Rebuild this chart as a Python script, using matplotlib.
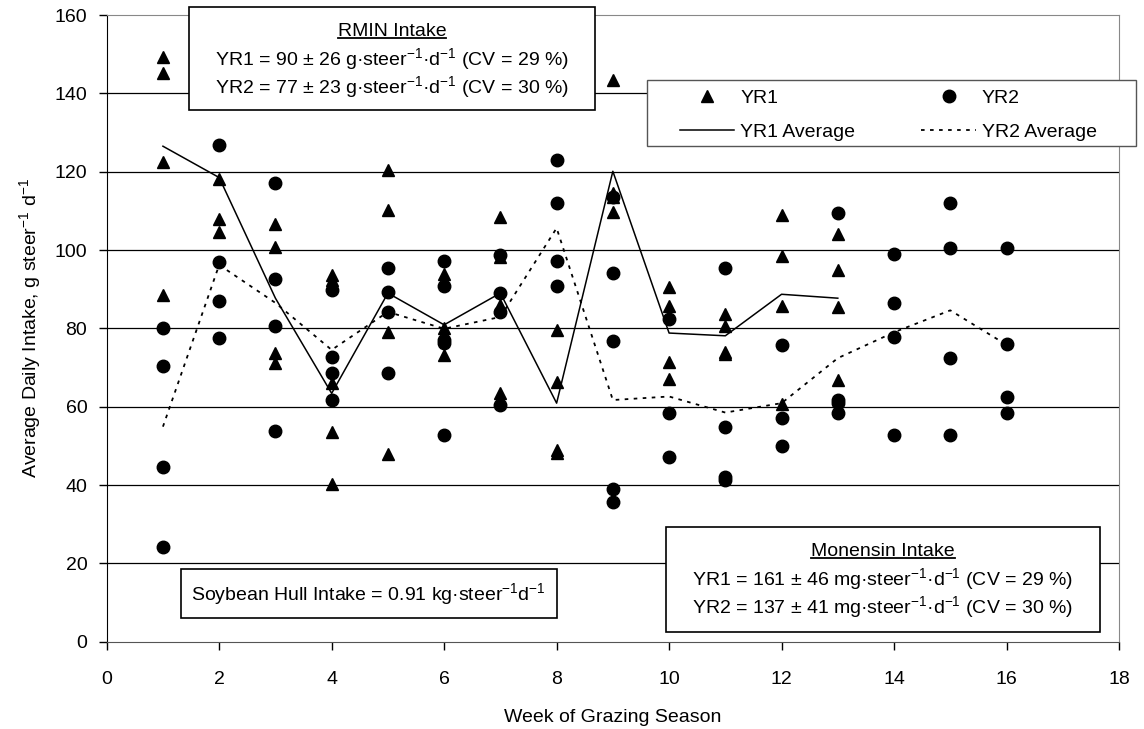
import numpy as np
import matplotlib
matplotlib.use('Agg')
import matplotlib.pyplot as plt
from matplotlib.patches import Rectangle
from matplotlib.lines import Line2D

plt.rcParams['font.family'] = ['Liberation Sans', 'DejaVu Sans']
plt.rcParams['mathtext.fontset'] = 'custom'
plt.rcParams['mathtext.rm'] = 'Liberation Sans'
plt.rcParams['mathtext.it'] = 'Liberation Sans:italic'
plt.rcParams['mathtext.bf'] = 'Liberation Sans:bold'

# individual intakes per week (g/steer/d)
yr1_weeks = list(range(1, 14))
yr1_intake = [
    [149.4, 145.3, 122.4, 88.6],
    [118.2, 108.0, 104.6],
    [106.7, 100.7, 73.8, 71.1],
    [93.5, 92.3, 66.0, 53.5, 40.3],
    [120.3, 110.1, 79.0, 47.9],
    [93.9, 80.0, 73.1],
    [108.4, 98.3, 86.0, 63.4],
    [79.6, 66.4, 49.0, 48.2],
    [143.3, 114.5, 113.6, 109.7],
    [90.5, 85.7, 71.3, 67.1],
    [83.7, 80.7, 73.9, 73.4],
    [109.0, 98.5, 85.7, 60.7],
    [104.1, 94.8, 85.4, 66.8],
]
yr2_weeks = list(range(1, 17))
yr2_intake = [
    [80.0, 70.4, 44.5, 24.3],
    [126.9, 96.9, 87.0, 77.5],
    [117.2, 92.6, 80.5, 53.8],
    [89.8, 72.8, 68.7, 61.6],
    [95.5, 89.2, 84.1, 68.7],
    [97.1, 90.7, 77.1, 76.3, 52.8],
    [98.8, 89.0, 84.1, 60.5],
    [123.0, 112.0, 97.1, 90.7],
    [113.5, 94.1, 76.8, 38.9, 35.6],
    [82.3, 58.3, 47.1],
    [95.4, 54.9, 42.0, 41.4],
    [75.8, 57.2, 50.0],
    [109.4, 61.6, 61.0, 58.5],
    [99.0, 86.4, 77.8, 52.8],
    [112.0, 100.5, 72.4, 52.8],
    [100.5, 76.0, 62.5, 58.5],
]
yr1_avg = [126.5, 118.5, 87.7, 63.4, 89.0, 80.9, 89.0, 60.9, 120.1, 78.8, 78.1, 88.7, 87.7]
yr2_avg = [54.9, 96.2, 86.5, 74.5, 84.2, 79.9, 82.9, 105.6, 61.7, 62.6, 58.5, 60.9, 72.4, 79.0, 84.6, 75.8]

x1 = np.repeat(yr1_weeks, [len(v) for v in yr1_intake])
y1 = np.concatenate(yr1_intake)
x2 = np.repeat(yr2_weeks, [len(v) for v in yr2_intake])
y2 = np.concatenate(yr2_intake)

W, H = 1144, 729
def fx(px):
    return px / W
def fy(py):
    return 1 - py / H

FS = 14

fig = plt.figure(figsize=(W / 100, H / 100), dpi=100)
ax = fig.add_axes([fx(106.7), fy(641.7), (1119 - 106.7) / W, (641.7 - 15) / H])

for y in range(20, 160, 20):
    ax.axhline(y, color='black', lw=0.9, zorder=1)

h1, = ax.plot(x1, y1, ls='none', marker='^', ms=9, color='black', zorder=3, label='YR1')
h2, = ax.plot(x2, y2, ls='none', marker='o', ms=9, color='black', zorder=3, label='YR2')
l1, = ax.plot(yr1_weeks, yr1_avg, '-', color='black', lw=1.1, zorder=2, label='YR1 Average')
l2, = ax.plot(yr2_weeks, yr2_avg, color='black', lw=1.3, ls=(0, (2, 3)), zorder=2, label='YR2 Average')

ax.set_xlim(0, 18)
ax.set_ylim(0, 160)
ax.set_xticks(range(0, 19, 2))
ax.set_yticks(range(0, 161, 20))
ax.tick_params(axis='both', labelsize=FS, direction='out', length=6, width=1)
ax.tick_params(axis='x', pad=15)
ax.tick_params(axis='y', pad=8)
ax.spines['left'].set_color('black')
ax.spines['bottom'].set_color('#555555')
ax.spines['top'].set_color('#888888')
ax.spines['right'].set_color('#888888')

ax.set_xlabel('Week of Grazing Season', fontsize=FS)
ax.set_ylabel('Average Daily Intake, g steer$^{-1}$ d$^{-1}$', fontsize=FS)
ax.xaxis.set_label_coords(0.5, -0.108)
ax.yaxis.set_label_coords(-0.063, 0.5)

# legend: frame drawn separately so the padding can match
fig.add_artist(Rectangle((fx(647), fy(146)), (1136 - 647) / W, (146 - 80) / H,
                         transform=fig.transFigure, facecolor='white',
                         edgecolor='#555555', lw=1.0, zorder=5))
leg = ax.legend(handles=[h1, l1, h2, l2], ncol=2, loc='upper left',
                bbox_to_anchor=(fx(680), fy(89)), bbox_transform=fig.transFigure,
                borderaxespad=0, borderpad=0, fontsize=FS, handlelength=2.8,
                handletextpad=0.3, columnspacing=3.4, labelspacing=0.85,
                frameon=False)
leg.set_zorder(6)
leg.remove()
fig.add_artist(leg)

def box(x0, y0, x1, y1):
    fig.add_artist(Rectangle((fx(x0), fy(y1)), (x1 - x0) / W, (y1 - y0) / H,
                             transform=fig.transFigure, facecolor='white',
                             edgecolor='black', lw=1.2, zorder=5))

box(189, 7, 595, 110)
box(181, 569, 557, 618)
box(666, 527, 1100, 632)

titles = []
titles.append(fig.text(fx(392), fy(31), 'RMIN Intake', ha='center', va='center', fontsize=FS, zorder=7))
fig.text(fx(392), fy(59), 'YR1 = 90 ± 26 g·steer$^{-1}$·d$^{-1}$ (CV = 29 %)', ha='center', va='center', fontsize=FS, zorder=7)
fig.text(fx(392), fy(87), 'YR2 = 77 ± 23 g·steer$^{-1}$·d$^{-1}$ (CV = 30 %)', ha='center', va='center', fontsize=FS, zorder=7)

fig.text(fx(191), fy(594), 'Soybean Hull Intake = 0.91 kg·steer$^{-1}$d$^{-1}$', ha='left', va='center', fontsize=FS, zorder=7)

titles.append(fig.text(fx(883), fy(551), 'Monensin Intake', ha='center', va='center', fontsize=FS, zorder=7))
fig.text(fx(883), fy(579), 'YR1 = 161 ± 46 mg·steer$^{-1}$·d$^{-1}$ (CV = 29 %)', ha='center', va='center', fontsize=FS, zorder=7)
fig.text(fx(883), fy(607), 'YR2 = 137 ± 41 mg·steer$^{-1}$·d$^{-1}$ (CV = 30 %)', ha='center', va='center', fontsize=FS, zorder=7)

# underline the box titles
fig.canvas.draw()
r = fig.canvas.get_renderer()
for t in titles:
    bb = t.get_window_extent(r)
    yb = bb.y0 + 2
    fig.add_artist(Line2D([bb.x0 / W, bb.x1 / W], [yb / H, yb / H],
                          transform=fig.transFigure, color='black', lw=1.3, zorder=7))

fig.savefig('out.png', dpi=100)
